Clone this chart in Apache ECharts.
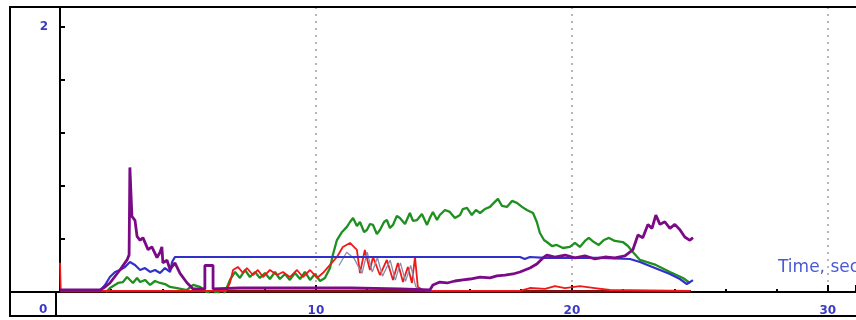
<!DOCTYPE html>
<html><head><meta charset="utf-8">
<script src="https://cdn.jsdelivr.net/npm/echarts@6/dist/echarts.min.js"></script>
<style>html,body{margin:0;padding:0;background:#fff}#c{width:856px;height:320px}</style>
</head><body><div id="c"></div>
<script>
const xTickLabels = ['10', '20', '30'];
const yTickLabels = ['2'];
const axisTitle = 'Time, sec';

const purple = [[0,0.015],[1.56,0.015],[1.76,0.038],[1.95,0.068],[2.34,0.166],[2.62,0.242],[2.70,0.28],[2.73,0.94],[2.81,0.57],[2.93,0.54],[3.01,0.42],[3.13,0.39],[3.24,0.41],[3.44,0.32],[3.59,0.34],[3.79,0.26],[3.91,0.30],[3.98,0.34],[4.02,0.22],[4.18,0.24],[4.30,0.17],[4.49,0.22],[4.69,0.14],[4.96,0.07],[5.20,0.023],[5.66,0.023],[5.66,0.20],[5.98,0.20],[5.98,0.023],[7.03,0.03],[9.38,0.03],[11.33,0.03],[13.28,0.023],[14.45,0.015],[14.57,0.053],[14.84,0.075],[15.12,0.068],[15.43,0.083],[15.74,0.091],[16.02,0.098],[16.41,0.113],[16.80,0.106],[17.07,0.121],[17.38,0.128],[17.70,0.136],[17.97,0.151],[18.36,0.181],[18.63,0.211],[18.87,0.257],[19.02,0.279],[19.34,0.264],[19.73,0.279],[20.12,0.257],[20.51,0.272],[20.90,0.249],[21.29,0.264],[21.68,0.257],[22.07,0.272],[22.38,0.317],[22.58,0.43],[22.77,0.41],[22.97,0.51],[23.13,0.48],[23.28,0.58],[23.44,0.51],[23.63,0.53],[23.83,0.48],[24.02,0.51],[24.22,0.47],[24.41,0.415],[24.61,0.39],[24.73,0.41]];

const blue = [[1.56,0.008],[1.76,0.053],[1.95,0.113],[2.15,0.151],[2.34,0.166],[2.54,0.189],[2.73,0.226],[2.93,0.204],[3.13,0.166],[3.32,0.181],[3.52,0.151],[3.71,0.166],[3.91,0.143],[4.10,0.181],[4.30,0.151],[4.38,0.226],[4.49,0.264],[9.38,0.264],[13.28,0.264],[17.97,0.264],[18.16,0.249],[18.36,0.264],[18.95,0.257],[21.09,0.257],[22.27,0.249],[22.66,0.226],[23.05,0.196],[23.44,0.166],[23.83,0.136],[24.22,0.098],[24.49,0.06],[24.61,0.075],[24.73,0.09]];

const green = [[1.80,0.0],[1.95,0.030],[2.27,0.068],[2.46,0.075],[2.62,0.113],[2.85,0.068],[3.01,0.106],[3.13,0.075],[3.32,0.091],[3.52,0.053],[3.71,0.083],[3.91,0.068],[4.10,0.060],[4.30,0.038],[4.57,0.030],[4.96,0.015],[5.20,0.053],[5.47,0.038],[5.74,0],[5.94,-0.030],[6.13,0.008],[6.33,-0.045],[6.48,0.015],[6.64,0.091],[6.84,0.151],[7.03,0.106],[7.23,0.166],[7.42,0.113],[7.62,0.151],[7.81,0.106],[8.01,0.143],[8.20,0.098],[8.40,0.151],[8.59,0.098],[8.79,0.136],[8.98,0.091],[9.18,0.143],[9.38,0.098],[9.57,0.151],[9.77,0.091],[9.96,0.136],[10.16,0.083],[10.35,0.106],[10.55,0.181],[10.66,0.279],[10.82,0.392],[11.02,0.453],[11.21,0.491],[11.33,0.528],[11.45,0.558],[11.60,0.498],[11.72,0.528],[11.88,0.453],[11.99,0.468],[12.11,0.513],[12.23,0.506],[12.38,0.438],[12.50,0.468],[12.66,0.528],[12.77,0.543],[12.89,0.483],[13.01,0.506],[13.16,0.574],[13.28,0.558],[13.48,0.513],[13.67,0.596],[13.79,0.536],[13.95,0.543],[14.14,0.589],[14.34,0.506],[14.45,0.558],[14.57,0.604],[14.73,0.543],[14.84,0.581],[15.04,0.619],[15.23,0.604],[15.43,0.558],[15.63,0.581],[15.74,0.626],[15.90,0.634],[16.09,0.581],[16.25,0.619],[16.41,0.596],[16.60,0.626],[16.80,0.642],[16.95,0.672],[17.11,0.702],[17.27,0.649],[17.46,0.642],[17.66,0.687],[17.85,0.672],[18.05,0.642],[18.24,0.619],[18.48,0.596],[18.63,0.528],[18.75,0.445],[18.91,0.392],[19.02,0.377],[19.22,0.347],[19.41,0.355],[19.65,0.332],[19.92,0.340],[20.12,0.370],[20.31,0.340],[20.51,0.385],[20.66,0.408],[20.86,0.377],[21.05,0.355],[21.25,0.392],[21.45,0.408],[21.68,0.385],[21.99,0.377],[22.19,0.347],[22.38,0.302],[22.66,0.242],[23.28,0.204],[23.83,0.151],[24.34,0.106],[24.61,0.068]];

const red = [[0,0.22],[0.03,0.008],[6.48,0.008],[6.64,0.068],[6.76,0.166],[6.95,0.189],[7.15,0.143],[7.30,0.181],[7.54,0.128],[7.73,0.166],[7.93,0.113],[8.20,0.166],[8.48,0.128],[8.71,0.151],[8.98,0.113],[9.26,0.166],[9.49,0.113],[9.77,0.166],[10.04,0.106],[10.27,0.143],[10.55,0.204],[10.82,0.264],[11.05,0.340],[11.33,0.370],[11.60,0.317],[11.72,0.143],[11.91,0.317],[12.11,0.166],[12.23,0.264],[12.50,0.128],[12.77,0.242],[13.01,0.091],[13.20,0.219],[13.40,0.075],[13.59,0.189],[13.75,0.068],[13.87,0.264],[13.98,0.038],[14.18,0.015],[14.45,0.008],[17.97,0.008],[18.36,0.03],[18.95,0.023],[19.34,0.045],[19.73,0.03],[20.31,0.045],[20.90,0.03],[21.48,0.015],[24.61,0.008]];

const gray = [[10.9,0.20],[11.2,0.30],[11.5,0.25],[11.8,0.14],[12.0,0.30],[12.2,0.15],[12.4,0.26],[12.6,0.12],[12.9,0.24],[13.1,0.09],[13.3,0.22],[13.5,0.08],[13.7,0.20],[13.9,0.04],[14.1,0.01]];

const maroon = [[0,0.005],[24.65,0.005]];

const labelBlue = '#3a3ac4';
const chart = echarts.init(document.getElementById('c'), null, {renderer:'canvas'});
function line(name, data, color, width, z) {
  return {name, type:'line', data, symbol:'none', animation:false, z,
    lineStyle:{color, width}, emphasis:{disabled:true}};
}
chart.setOption({
  animation:false,
  backgroundColor:'#fff',
  grid:{left:60, right:0, top:7, bottom:28, containLabel:false, outerBoundsMode:'none'},
  xAxis:{type:'value', min:0, max:31.1, interval:10,
    axisLine:{show:true, lineStyle:{color:'#000', width:2}},
    axisTick:{show:true, inside:true, length:7, lineStyle:{color:'#000', width:2}},
    minorTick:{show:true, splitNumber:5, length:3, lineStyle:{color:'#000', width:2}},
    axisLabel:{color:labelBlue, fontSize:12, fontWeight:'bold', fontFamily:'DejaVu Sans', margin:13,
      formatter:function(v){ const s = String(Math.round(v)); return xTickLabels.indexOf(s)>=0 ? s : ''; }},
    splitLine:{show:true, showMinLine:false, showMaxLine:false, lineStyle:{color:'#a0a0a0', width:1.5, type:[2,5]}}
  },
  yAxis:{type:'value', min:0, max:2.15, interval:0.4, offset:4,
    axisLine:{show:true, lineStyle:{color:'#000', width:2}},
    axisTick:{show:true, inside:true, length:5, lineStyle:{color:'#000', width:2}},
    axisLabel:{color:labelBlue, fontSize:12, fontWeight:'bold', fontFamily:'DejaVu Sans', margin:8,
      formatter:function(v){ const s = String(Math.round(v*10)/10); return yTickLabels.indexOf(s)>=0 ? s : ''; }},
    splitLine:{show:false}
  },
  graphic:[
    {type:'rect', shape:{x:10, y:7, width:900, height:309}, style:{fill:'none', stroke:'#000', lineWidth:2}, z:100},
    {type:'line', shape:{x1:10, y1:292, x2:60, y2:292}, style:{stroke:'#000', lineWidth:2}, z:100},
    {type:'line', shape:{x1:56, y1:292, x2:56, y2:316}, style:{stroke:'#000', lineWidth:2}, z:100},
    {type:'text', left:39, top:304, style:{text:'0', fill:labelBlue, fontSize:12, fontWeight:'bold', fontFamily:'DejaVu Sans'}, z:100},
    {type:'text', left:778, top:259, style:{text:axisTitle, fill:'#4a5ad6', fontSize:17, fontFamily:'DejaVu Sans'}, z:100}
  ],
  series:[
    line('maroon', maroon, '#8b1010', 2.5, 1),
    line('green', green, '#1f8f1f', 2.3, 2),
    line('red', red, '#f01818', 1.8, 3),
    line('gray', gray, '#8c8ca8', 1.3, 4),
    line('blue', blue, '#3030cc', 2.2, 5),
    line('purple', purple, '#7a0a86', 2.8, 6)
  ]
});
</script></body></html>
